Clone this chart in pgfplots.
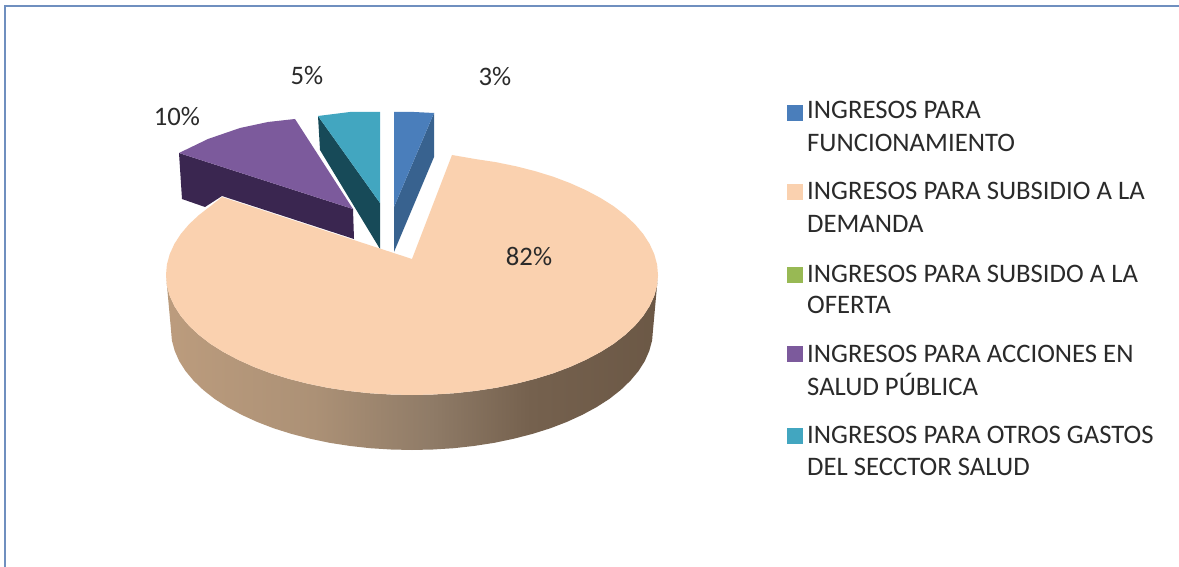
\documentclass[border=0pt]{standalone}
\usepackage{pgfplots}
\pgfplotsset{compat=1.18}
\usepackage{fontspec}
\setmainfont{Carlito}
\definecolor{fr}{HTML}{6F8FBF}
\definecolor{blueT}{HTML}{4A7EBB}
\definecolor{blueW}{HTML}{38628F}
\definecolor{peach}{HTML}{FAD1AF}
\definecolor{greenL}{HTML}{98B954}
\definecolor{purpT}{HTML}{7C5A9C}
\definecolor{purpW}{HTML}{3A2650}
\definecolor{tealT}{HTML}{42A6C0}
\definecolor{tealW}{HTML}{174A58}
\definecolor{txt}{HTML}{2A2A2A}
\definecolor{w0}{HTML}{CDAA88}
\definecolor{w1}{HTML}{C6A382}
\definecolor{w2}{HTML}{AC9176}
\definecolor{w3}{HTML}{8F7B67}
\definecolor{w35}{HTML}{75614E}
\definecolor{w4}{HTML}{64513F}
\definecolor{w5}{HTML}{7A6653}
\pgfdeclarehorizontalshading{wall}{100bp}{color(0bp)=(w0);color(15bp)=(w1);color(40bp)=(w2);color(52bp)=(w3);color(62bp)=(w35);color(85bp)=(w4);color(100bp)=(w5)}
\newcommand\lf{\fontsize{26.7}{30}\selectfont}
\begin{document}
\begin{tikzpicture}
\path[use as bounding box,fill=white] (0,0) rectangle (1179pt,567pt);
\begin{axis}[
  at={(0,0)},anchor=south west,
  scale only axis,width=1179pt,height=567pt,
  xmin=0,xmax=1179,ymin=0,ymax=567,y dir=reverse,
  hide axis,clip=false,
  mark size=7.5pt
]
% frame
\addplot[fr,line width=2pt] coordinates {(5,567)(5,6)(1179,6)};
% purple slice
\addplot[draw=none,fill=purpW] coordinates {(179,153)(353,209)(354,239)(222,196)(205,207)(182,199)} --cycle;
\addplot[draw=none,fill=purpT] coordinates {(179,153)(208,139)(240,128)(268,122)(295,119)(353,209)} --cycle;
% teal slice
\addplot[draw=none,fill=tealW] coordinates {(318,116)(380,203)(380,249)(320,150)} --cycle;
\addplot[draw=none,fill=tealT] coordinates {(318,116)(350,112)(380,112)(380,203)} --cycle;
% blue slice
\addplot[draw=none,fill=blueW] coordinates {(434,113)(434,157)(394,252)(394,207)} --cycle;
\addplot[draw=none,fill=blueT] coordinates {(394,112)(414,112)(434,113)(394,207)} --cycle;
% main slice wall
\addplot[draw=none,shading=wall] coordinates {
(658,275)(657.1,285.5)(654.3,295.8)(649.6,306.1)(643.2,316)(635,325.7)(625,335)(613.5,343.9)(600.4,352.1)(585.9,359.8)(570.1,366.9)(553.2,373.3)(535,378.9)(516.1,383.7)(496.1,387.8)(475.7,390.9)(454.7,393.2)(433.4,394.5)(412,395)
(390.6,394.5)(369.3,393.2)(348.3,390.9)(327.9,387.8)(307.9,383.7)(289,378.9)(270.8,373.3)(253.9,366.9)(238.1,359.8)(223.6,352.1)(210.5,343.9)(199,335)(189,325.7)(180.8,316)(174.4,306.1)(169.7,295.8)(166.9,285.5)(166,275)
(171,330)(171.9,340.5)(174.7,350.8)(179.2,361.1)(185.5,371)(193.6,380.7)(203.3,390)(214.6,398.9)(227.4,407.1)(241.6,414.8)(257.1,421.9)(273.7,428.3)(291.5,433.9)(310.1,438.7)(329.6,442.8)(349.6,445.9)(370.2,448.2)(391,449.5)(412,450)
(433,449.5)(453.8,448.2)(474.4,445.9)(494.4,442.8)(513.9,438.7)(532.5,433.9)(550.3,428.3)(566.9,421.9)(582.4,414.8)(596.6,407.1)(609.4,398.9)(620.7,390)(630.4,380.7)(638.5,371)(644.8,361.1)(649.3,350.8)(652.1,340.5)(653,330)} --cycle;
% main slice top
\addplot[draw=none,fill=peach] coordinates {
(412,259)(452,155)(475.7,159.1)(496.1,162.2)(516.1,166.3)(535,171.1)(553.2,176.7)(570.1,183.1)(585.9,190.2)(600.4,197.9)(613.5,206.1)(625,215)(635,224.3)(643.2,234)(649.6,243.9)(654.3,254.2)(657.1,264.5)(658,275)
(657.1,285.5)(654.3,295.8)(649.6,306.1)(643.2,316)(635,325.7)(625,335)(613.5,343.9)(600.4,352.1)(585.9,359.8)(570.1,366.9)(553.2,373.3)(535,378.9)(516.1,383.7)(496.1,387.8)(475.7,390.9)(454.7,393.2)(433.4,394.5)(412,395)
(390.6,394.5)(369.3,393.2)(348.3,390.9)(327.9,387.8)(307.9,383.7)(289,378.9)(270.8,373.3)(253.9,366.9)(238.1,359.8)(223.6,352.1)(210.5,343.9)(199,335)(189,325.7)(180.8,316)(174.4,306.1)(169.7,295.8)(166.9,285.5)(166,275)
(166.9,264.5)(169.7,254.2)(174.4,243.9)(180.8,234)(189,224.3)(199,215)(210.5,206.1)(222,197)} --cycle;
% legend keys
\addplot[only marks,mark=square*,color=blueT] coordinates {(794.5,112.5)};
\addplot[only marks,mark=square*,color=peach] coordinates {(794.5,191.5)};
\addplot[only marks,mark=square*,color=greenL] coordinates {(794.5,274.5)};
\addplot[only marks,mark=square*,color=purpT] coordinates {(794.5,353.5)};
\addplot[only marks,mark=square*,color=tealT] coordinates {(794.5,435.5)};
% legend text
\foreach \y/\t in {119/INGRESOS PARA,152/FUNCIONAMIENTO,200/INGRESOS PARA SUBSIDIO A LA,233/DEMANDA,282/INGRESOS PARA SUBSIDO A LA,313/OFERTA,362/INGRESOS PARA ACCIONES EN,395/SALUD PÚBLICA,443/INGRESOS PARA OTROS GASTOS,475/DEL SECCTOR SALUD}{
  \edef\temp{\noexpand\node[anchor=base west,inner sep=0pt,text=txt,font=\noexpand\lf] at (axis cs:807,\y) {\t};}
  \temp
}
% value labels
\node[text=txt,inner sep=0pt,font=\lf] at (axis cs:495,77) {3\%};
\node[text=txt,inner sep=0pt,font=\lf] at (axis cs:307,76) {5\%};
\node[text=txt,inner sep=0pt,font=\lf] at (axis cs:177,117) {10\%};
\node[text=txt,inner sep=0pt,font=\lf] at (axis cs:529,256) {82\%};
\end{axis}
\end{tikzpicture}
\end{document}
